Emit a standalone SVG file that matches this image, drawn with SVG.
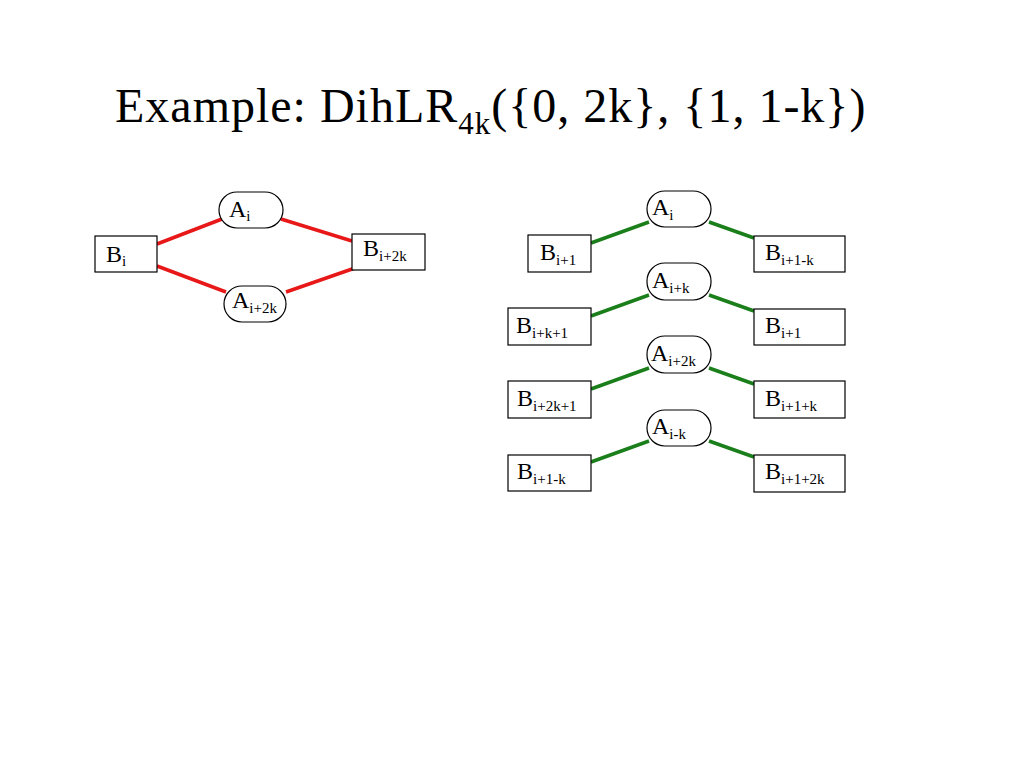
<svg xmlns="http://www.w3.org/2000/svg" width="1024" height="768" viewBox="0 0 1024 768">
<style>
text{font-family:"Liberation Serif","DejaVu Serif",serif;fill:#000}
.n{fill:#fff;stroke:#000;stroke-width:1.2}
.l{font-size:24px}
.s{font-size:15px}
.r{stroke:#e81818;stroke-width:3.5;fill:none}
.g{stroke:#1a7f1a;stroke-width:3.5;fill:none}
</style>
<rect width="1024" height="768" fill="#fff"/>
<text x="115" y="122" style="font-size:48px;letter-spacing:1px">Example: DihLR<tspan dy="12" style="font-size:31px">4k</tspan><tspan dy="-12">({0, 2k}, {1, 1-k})</tspan></text>
<g id="connectors">
<path class="r" d="M157 244L222 219M281 219L352 241M157 266L226 292M286 292L355 268"/>
<path class="g" d="M591 243L649 222M709 222L754 238M591 316L649 295M709 295L754 311M591 389L649 368M709 368L754 384M591 462L649 441M709 441L754 457"/>
</g>
<g id="L_Ai"><rect class="n" x="219" y="192" width="64" height="36" rx="18"/><text class="l" x="229" y="217">A<tspan class="s" dy="4">i</tspan></text></g>
<g id="L_Bi"><rect class="n" x="95" y="236" width="62" height="36"/><text class="l" x="106" y="262">B<tspan class="s" dy="4">i</tspan></text></g>
<g id="L_Bi2k"><rect class="n" x="352" y="234" width="73" height="36"/><text class="l" x="363" y="256">B<tspan class="s" dy="5">i+2k</tspan></text></g>
<g id="L_Ai2k"><rect class="n" x="224" y="286" width="62" height="36" rx="18"/><text class="l" x="232" y="308">A<tspan class="s" dy="5">i+2k</tspan></text></g>

<g id="R_A1"><rect class="n" x="647" y="191" width="64" height="36" rx="18"/><text class="l" x="652" y="215">A<tspan class="s" dy="5">i</tspan></text></g>
<g id="R_B1l"><rect class="n" x="528" y="235" width="63" height="37"/><text class="l" x="540" y="260">B<tspan class="s" dy="5">i+1</tspan></text></g>
<g id="R_B1r"><rect class="n" x="754" y="236" width="91" height="36"/><text class="l" x="765" y="260">B<tspan class="s" dy="5">i+1-k</tspan></text></g>
<g id="R_A2"><rect class="n" x="647" y="263" width="64" height="37" rx="18"/><text class="l" x="652" y="288">A<tspan class="s" dy="5">i+k</tspan></text></g>
<g id="R_B2l"><rect class="n" x="508" y="308" width="83" height="37"/><text class="l" x="516" y="333">B<tspan class="s" dy="5">i+k+1</tspan></text></g>
<g id="R_B2r"><rect class="n" x="754" y="309" width="91" height="36"/><text class="l" x="765" y="333">B<tspan class="s" dy="5">i+1</tspan></text></g>
<g id="R_A3"><rect class="n" x="647" y="336" width="64" height="37" rx="18"/><text class="l" x="651" y="361">A<tspan class="s" dy="5">i+2k</tspan></text></g>
<g id="R_B3l"><rect class="n" x="508" y="381" width="83" height="37"/><text class="l" x="517" y="406">B<tspan class="s" dy="5">i+2k+1</tspan></text></g>
<g id="R_B3r"><rect class="n" x="754" y="381" width="91" height="37"/><text class="l" x="765" y="406">B<tspan class="s" dy="5">i+1+k</tspan></text></g>
<g id="R_A4"><rect class="n" x="647" y="410" width="64" height="36" rx="18"/><text class="l" x="652" y="434">A<tspan class="s" dy="5">i-k</tspan></text></g>
<g id="R_B4l"><rect class="n" x="508" y="455" width="83" height="36"/><text class="l" x="517" y="479">B<tspan class="s" dy="5">i+1-k</tspan></text></g>
<g id="R_B4r"><rect class="n" x="754" y="455" width="91" height="37"/><text class="l" x="765" y="479">B<tspan class="s" dy="5">i+1+2k</tspan></text></g>
</svg>
